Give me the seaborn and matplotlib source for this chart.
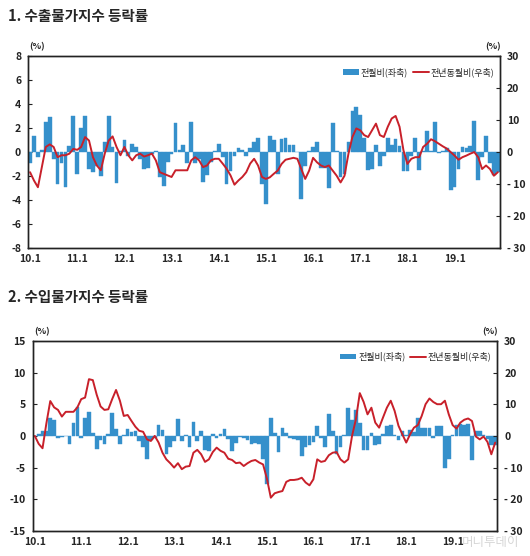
import numpy as np
import pandas as pd
import matplotlib
matplotlib.use("Agg")
import matplotlib.pyplot as plt
import seaborn as sns
from matplotlib.patches import Patch
from matplotlib.lines import Line2D

# Month labels (2010.1 ~ 2019.12)
months = [f"{y % 100:02d}.{m}" for y in range(2010, 2020) for m in range(1, 13)]
year_ticks = [f"{y % 100:02d}.1" for y in range(2010, 2020)]

# 1. 수출물가지수 - 전월비 (left axis, %)
export_mom = [
    -0.9, 1.3, -0.4, 0.2, 2.5, 2.9, -0.6, -2.7, -0.9, -2.9, 0.5, 3.0,
    -1.8, 2.0, 3.0, -1.4, -1.7, -1.2, -2.0, 0.8, 3.0, 0.4, -2.6, 0.1,
    1.0, -0.3, 0.7, 0.4, -0.6, -1.4, -1.3, -0.2, 0.1, -2.1, -2.8, -0.8,
    -0.2, 2.4, 0.2, 0.6, -0.9, 2.5, -0.9, -0.6, -2.5, -1.9, -0.8, 0.1,
    0.7, -0.4, -2.7, -1.6, -0.3, 0.3, 0.2, -0.3, 0.3, 0.8, 1.2, -2.7,
    -4.3, 1.3, 1.0, -1.8, 1.1, 1.2, 0.6, 0.6, 0.0, -3.9, -1.2, 0.1,
    0.4, 0.8, -1.3, -1.3, -3.0, 2.4, 0.1, -2.1, -1.8, 0.8, 3.4, 3.8,
    3.1, 1.2, -1.5, -1.4, 0.6, -1.2, -0.3, 1.2, 0.6, 1.1, 0.5, -1.6,
    -1.6, -0.3, 1.2, -1.5, 0.1, 1.75, 0.1, 2.5, -0.1, 0.1, 0.3, -3.2,
    -2.9, -1.4, 0.4, 0.3, 0.5, 2.6, -2.3, -0.4, 1.35, -0.9, -1.9, -1.7,
]
# 1. 수출물가지수 - 전년동월비 (right axis, %)
export_yoy = [
    -6.3, -8.9, -11.0, -4.7, 1.6, 2.4, 1.6, -1.6, -1.0, -1.0, -0.5, 1.0,
    0.7, 1.6, 4.7, 3.6, -1.6, -4.2, -5.7, -0.5, 3.6, 4.9, 1.6, -1.0,
    1.6, -1.0, -2.6, -1.0, -0.5, -1.4, -1.0, -0.5, -2.6, -6.3, -6.8, -7.3,
    -7.8, -5.7, -5.7, -5.7, -5.7, -2.6, -1.6, -2.6, -4.7, -4.2, -2.6, -2.1,
    -2.1, -3.6, -5.2, -7.3, -10.2, -8.9, -7.8, -6.3, -3.6, -2.1, -4.2, -7.8,
    -8.4, -7.9, -6.8, -5.8, -3.7, -2.4, -2.1, -1.8, -2.1, -5.3, -8.4, -5.8,
    -1.8, -3.2, -4.2, -4.7, -4.2, -5.8, -7.4, -9.5, -7.4, -0.5, 4.7, 7.4,
    6.8, 5.3, 4.7, 6.8, 8.9, 5.3, 4.7, 7.9, 10.5, 11.3, 7.9, 0.5,
    -3.7, -2.1, -1.6, -1.6, 1.6, 2.6, 4.0, 3.4, 2.6, 1.8, 1.1, 0.0,
    -1.1, -2.4, -1.6, -1.1, -0.5, 0.0, -1.6, -5.3, -4.2, -5.3, -7.4, -6.3,
]

# 2. 수입물가지수 - 전월비 (left axis, %)
import_mom = [
    0.0, 0.3, 0.8, 0.8, 2.9, 2.5, -0.3, -0.1, 0.0, -1.2, 2.0, 4.6,
    -0.3, 2.9, 3.7, 0.5, -2.1, -0.6, -1.2, 0.3, 3.6, 1.1, -1.3, 0.1,
    1.1, 0.6, 0.8, -0.8, -1.8, -3.6, -0.6, -0.3, 1.7, 0.9, -2.9, -1.8,
    -0.8, 2.7, -0.8, 0.1, -1.8, 2.2, -0.8, 0.8, -2.2, -2.4, 0.3, -0.3,
    0.3, 1.1, -0.5, -2.4, -1.1, -0.1, -0.3, -0.6, -1.2, -1.1, -1.2, -3.7,
    -7.6, 2.9, 0.4, -2.6, 1.2, 0.5, -0.3, -0.5, -0.6, -3.2, -1.8, -1.5,
    -1.0, 1.5, -0.3, -1.8, 3.5, 0.7, -2.8, -1.8, 0.1, 4.4, 2.5, 4.1,
    2.0, -2.2, -2.2, 0.4, -1.4, -1.2, 0.3, 1.5, 1.7, 0.2, -0.6, 0.7,
    0.1, 0.9, 0.6, 2.8, 1.2, 1.2, 1.3, -0.4, 1.6, 1.6, -5.0, -3.7,
    0.1, 1.7, 1.8, 1.7, 1.8, -3.8, 0.7, 0.7, 0.1, -0.5, -1.4, -1.4,
]
# 2. 수입물가지수 - 전년동월비 (right axis, %)
import_yoy = [
    0.0, -2.5, -3.9, 4.0, 11.0, 9.0, 8.2, 6.1, 7.6, 7.6, 7.6, 9.0,
    11.6, 12.1, 17.9, 17.6, 13.0, 9.3, 8.2, 8.4, 11.6, 14.5, 11.1, 6.3,
    6.6, 4.7, 2.9, 1.6, 1.3, -1.1, -1.6, 0.0, -2.1, -5.3, -7.4, -8.6,
    -10.0, -8.6, -10.5, -9.7, -9.5, -5.3, -4.4, -5.8, -8.2, -7.4, -5.1, -3.7,
    -4.7, -5.3, -7.2, -7.6, -8.6, -8.4, -9.5, -8.6, -7.9, -7.6, -8.4, -9.0,
    -13.5, -19.5, -18.1, -17.7, -17.4, -14.5, -13.9, -13.9, -13.7, -13.2, -14.7, -15.6,
    -13.7, -7.4, -8.2, -7.9, -6.1, -5.3, -5.1, -7.4, -8.4, -7.4, 0.0, 5.3,
    13.5, 10.7, 6.8, 8.9, 4.2, 2.6, 5.8, 8.9, 11.1, 7.9, 3.2, 0.5,
    -2.1, 0.5, 2.6, 3.4, 6.3, 10.0, 11.8, 10.7, 10.0, 10.0, 11.1, 6.8,
    3.4, 2.3, 4.2, 5.1, 5.5, 4.7, -0.2, -1.1, -0.2, -1.9, -5.8, -2.1,
]

BAR_COLOR = "#3590cb"
LINE_COLOR = "#c8202a"

sns.set_theme(style="white")
plt.rcParams["font.family"] = ["Noto Sans CJK KR", "DejaVu Sans"]
plt.rcParams["axes.unicode_minus"] = False


def draw_panel(fig, rect, mom, yoy, left_lim, left_step):
    """Bars = 전월비 on left axis, line = 전년동월비 on right axis"""
    ax = fig.add_axes(rect)
    df = pd.DataFrame({"month": months, "mom": mom, "yoy": yoy})
    df["pos"] = np.arange(len(df))

    sns.barplot(data=df, x="month", y="mom", color=BAR_COLOR, saturation=1,
                width=0.95, ax=ax, order=months,
                edgecolor=BAR_COLOR, linewidth=0.3)
    ax.set_xlim(-0.5, len(months) - 0.5)
    ax.set_ylim(-left_lim, left_lim)
    ticks = np.arange(-left_lim, left_lim + 0.1, left_step)
    ax.set_yticks(ticks)
    ax.set_yticklabels([f"{int(v)}" if v >= 0 else f"-{abs(int(v))}" for v in ticks])
    ax.set_xticks([months.index(t) for t in year_ticks])
    ax.set_xticklabels(year_ticks, fontweight="bold")
    ax.set_xlabel("")
    ax.set_ylabel("")

    ax2 = ax.twinx()
    sns.lineplot(data=df, x="pos", y="yoy", color=LINE_COLOR, lw=1.4, ax=ax2)
    ax2.set_ylim(-30, 30)
    ax2.set_yticks(np.arange(-30, 31, 10))
    ax2.set_yticklabels([f"{v}" if v >= 0 else f"- {abs(v)}" for v in range(-30, 31, 10)])
    ax2.set_ylabel("")
    ax2.set_xlim(-0.5, len(months) - 0.5)

    for a in (ax, ax2):
        for s in a.spines.values():
            s.set_color("#222222")
            s.set_linewidth(1.0)
        a.tick_params(axis="y", direction="in", length=3, width=0.8,
                      labelsize=7.5, colors="#222222", pad=5)
        a.tick_params(axis="x", length=0, labelsize=7.5, pad=4)
    for lab in ax.get_yticklabels() + ax2.get_yticklabels():
        lab.set_fontweight("bold")

    ax.text(0.02, 1.025, "(%)", transform=ax.transAxes, fontsize=6.5,
            ha="center", va="bottom", fontweight="bold")
    ax.text(0.985, 1.025, "(%)", transform=ax.transAxes, fontsize=6.5,
            ha="center", va="bottom", fontweight="bold")

    handles = [Patch(facecolor=BAR_COLOR, edgecolor="none"),
               Line2D([0], [0], color=LINE_COLOR, lw=1.4)]
    ax2.legend(handles, ["전월비(좌축)", "전년동월비(우축)"], loc="upper right",
               bbox_to_anchor=(1.0, 0.97), ncol=2, frameon=False, fontsize=6.5,
               handlelength=1.8, handleheight=0.6, columnspacing=0.5,
               handletextpad=0.2, borderaxespad=0.2)
    return ax, ax2


fig = plt.figure(figsize=(5.30, 5.56), dpi=100)

fig.text(0.015, 0.972, "1. 수출물가지수 등락률", fontsize=10.5, fontweight="bold",
         ha="left", va="center")
draw_panel(fig, [0.053, 0.554, 0.890, 0.345], export_mom, export_yoy, 8, 2)

fig.text(0.015, 0.466, "2. 수입물가지수 등락률", fontsize=10.5, fontweight="bold",
         ha="left", va="center")
draw_panel(fig, [0.062, 0.045, 0.876, 0.342], import_mom, import_yoy, 15, 5)

# watermark
fig.text(0.925, 0.012, "머니투데이", fontsize=9, color="#bbbbbb", alpha=0.6,
         ha="center", va="bottom")

fig.savefig("out.png", dpi=100)
plt.close(fig)
